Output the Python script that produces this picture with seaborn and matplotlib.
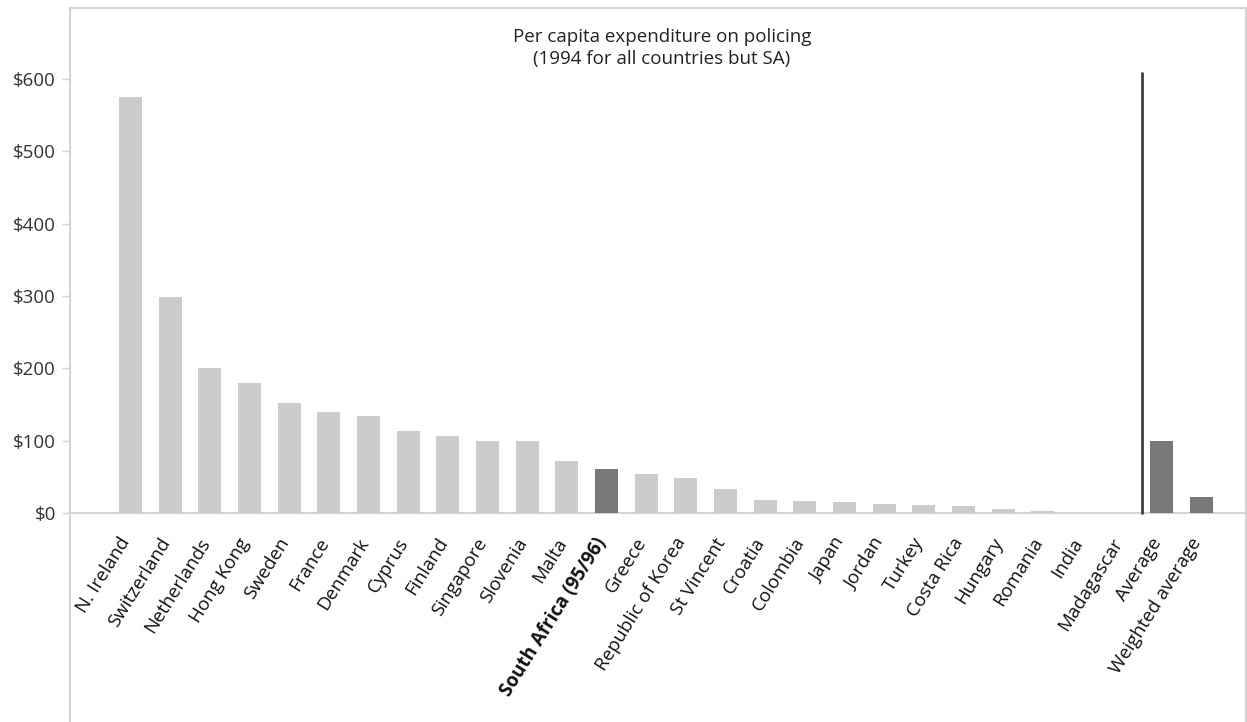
import seaborn as sns
import pandas as pd
import matplotlib.pyplot as plt
import matplotlib.transforms as mtransforms

# chart data
countries = [
    "N. Ireland", "Switzerland", "Netherlands", "Hong Kong", "Sweden", "France",
    "Denmark", "Cyprus", "Finland", "Singapore", "Slovenia", "Malta",
    "South Africa (95/96)", "Greece", "Republic of Korea", "St Vincent",
    "Croatia", "Colombia", "Japan", "Jordan", "Turkey", "Costa Rica",
    "Hungary", "Romania", "India", "Madagascar", "Average", "Weighted average"
]
spending = [
    575, 298, 200, 180, 152, 140, 134, 113, 106, 100, 100, 72,
    61, 54, 48, 33, 18, 17, 15, 12, 11, 10, 5.5, 3, 0, 0, 100, 22
]
highlighted = ["South Africa (95/96)", "Average", "Weighted average"]
y_ticks = [0, 100, 200, 300, 400, 500, 600]
y_tick_labels = ["$0", "$100", "$200", "$300", "$400", "$500", "$600"]
divider_top = 608

light_grey = "#cccccc"
dark_grey = "#787878"
frame_grey = "#d4d4d4"

df = pd.DataFrame({"Country": countries, "Spend": spending})
palette = {c: (dark_grey if c in highlighted else light_grey) for c in countries}

sns.set_theme(style="white")
plt.rcParams["font.family"] = ["Open Sans", "DejaVu Sans"]

fig = plt.figure(figsize=(12.47, 7.22), dpi=100)
ax = fig.add_axes([70 / 1247, 0, 1176 / 1247, 1 - 8 / 722])

sns.barplot(data=df, x="Country", y="Spend", hue="Country", palette=palette,
            width=0.58, legend=False, saturation=1, linewidth=0,
            ax=ax, zorder=2)

# separator before the averages
split = countries.index("Average") - 0.5
ax.plot([split, split], [0, divider_top], color="#404040", lw=2, zorder=3)

ax.set_xlim(-1.525, 28.12)
ax.set_ylim(-289, 698)
ax.set_xlabel("")
ax.set_ylabel("")

for side in ["left", "top", "right", "bottom"]:
    ax.spines[side].set_color(frame_grey)
    ax.spines[side].set_linewidth(1.5)
ax.spines["bottom"].set_position(("data", 0))
ax.spines["bottom"].set_zorder(1)

ax.set_yticks(y_ticks)
ax.set_yticklabels(y_tick_labels, fontsize=13.5, color="#333333")
ax.tick_params(axis="y", length=6, width=1, color=frame_grey, pad=4, left=True)

ax.set_xticks(range(len(countries)))
ax.set_xticklabels(countries, rotation=58, ha="right", va="center",
                   rotation_mode="anchor", fontsize=13.5, color="#111111")
ax.tick_params(axis="x", length=0, pad=19, bottom=True)
shift = mtransforms.ScaledTranslation(-4 / 100, 0, fig.dpi_scale_trans)
for lbl in ax.get_xticklabels():
    lbl.set_transform(lbl.get_transform() + shift)
    if lbl.get_text() == "South Africa (95/96)":
        lbl.set_fontweight("bold")

fig.text(662 / 1247, 1 - 48 / 722,
         "Per capita expenditure on policing\n(1994 for all countries but SA)",
         ha="center", va="center", fontsize=13.5, color="#222222",
         linespacing=1.25)

plt.savefig("out.png", dpi=100)
